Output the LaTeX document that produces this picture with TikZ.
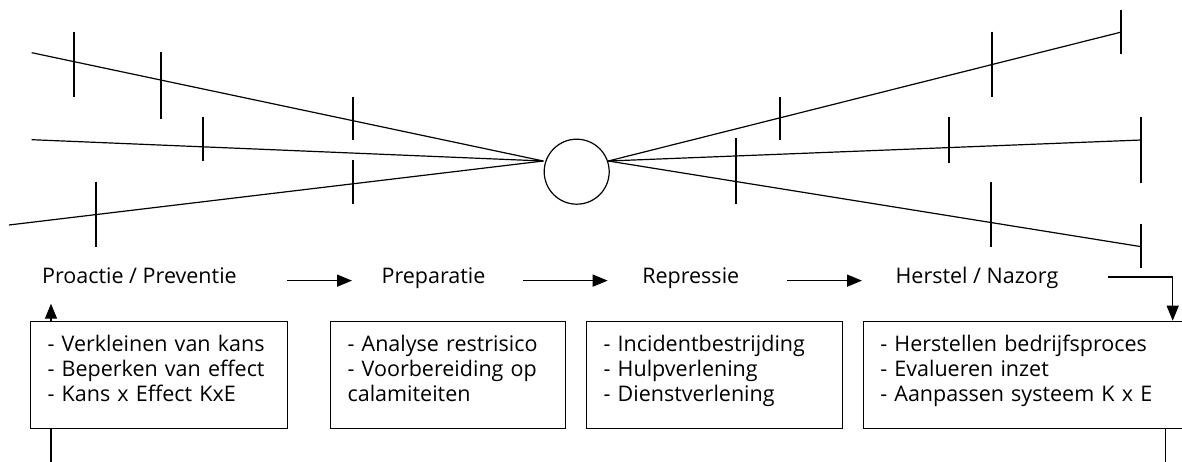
\documentclass[tikz,border=0pt]{standalone}
\usepackage{fontspec}
\setmainfont{Open Sans}
\usetikzlibrary{arrows.meta}

\begin{document}
\begin{tikzpicture}[x=1pt,y=-1pt,line width=1.2pt,
  tickline/.style={line width=1.9pt},
  flow/.style={line width=1.4pt,-{Triangle[length=15pt,width=12pt]}},
  phase/.style={anchor=base west,inner sep=0pt,font=\fontsize{21.5}{25}\selectfont},
  stagebox/.style={draw,anchor=north west,align=left,inner xsep=17pt,inner ysep=0pt,
    text height=30.3pt,text depth=76.7pt,font=\fontsize{21.5}{25}\selectfont}]
                \useasboundingbox (0,0) rectangle (1182,462);
                \clip (0,0) rectangle (1182,462);
                % bow tie
                \coordinate (L) at (543.3,161);
                \coordinate (R) at (608.3,161);
                \node[draw,circle,minimum size=65pt,inner sep=0pt] (hub) at (576.7,171.7) {};
                \draw (31.7,52.7) -- (L);
                \draw (31.7,139.7) -- (L);
                \draw (9,225) -- (L);
                \draw (R) -- (1120.3,32.3);
                \draw (R) -- (1141.3,140);
                \draw (R) -- (1141.3,246.7);
                \draw[tickline] (74,32.3) -- (74,97.3) (160.7,52.3) -- (160.7,119) (353.3,96.7) -- (353.3,140)
                    (202.7,117.3) -- (202.7,161.3) (96,182) -- (96,247.3) (352.7,160) -- (352.7,204);
                \draw[tickline] (780,96.7) -- (780,140) (992,31.7) -- (992,97.3) (1121,10) -- (1121,54)
                    (949.3,116.7) -- (949.3,162.7) (1141.3,117.3) -- (1141.3,182.7) (735.7,138.3) -- (735.7,204)
                    (991.3,182) -- (991.3,247.3) (1141.3,224) -- (1141.3,268.3);
                % phases
                \node[phase] (proactie) at (41.5,283.3) {Proactie / Preventie};
                \node[phase] (preparatie) at (381,283.3) {Preparatie};
                \node[phase] (repressie) at (641.7,283.3) {Repressie};
                \node[phase] (herstel) at (895,283.3) {Herstel / Nazorg};
                \draw[flow,shorten <=50pt,shorten >=29pt] (proactie.mid east) -- (preparatie.mid west);
                \draw[flow,shorten <=37pt,shorten >=34pt] (preparatie.mid east) -- (repressie.mid west);
                \draw[flow,shorten <=47pt,shorten >=33pt] (repressie.mid east) -- (herstel.mid west);
                % boxes
                \node[stagebox,text width=223pt] (box1) at (30,320.7)
                    {- Verkleinen van kans\\- Beperken van effect\\- Kans x Effect KxE};
                \node[stagebox,text width=201pt] (box2) at (330,320.7)
                    {- Analyse restrisico\\- Voorbereiding op\\calamiteiten};
                \node[stagebox,text width=221.7pt] (box3) at (586,320.7)
                    {- Incidentbestrijding\\- Hulpverlening\\- Dienstverlening};
                \node[stagebox,text width=291pt] (box4) at (862.7,320.7)
                    {- Herstellen bedrijfsproces\\- Evalueren inzet\\- Aanpassen systeem K x E};
                \draw[flow] ([xshift=49pt,yshift=3.5pt]herstel.mid east) -| ([xshift=-16.2pt]box4.north east);
                \draw[flow] ([xshift=21pt]box1.north west) -- ++(0,-17);
                \draw ([xshift=21pt]box1.south west) -- ++(0,45);
                \draw ([xshift=-23.4pt]box4.south east) -- ++(0,45);
            \end{tikzpicture}
\end{document}
